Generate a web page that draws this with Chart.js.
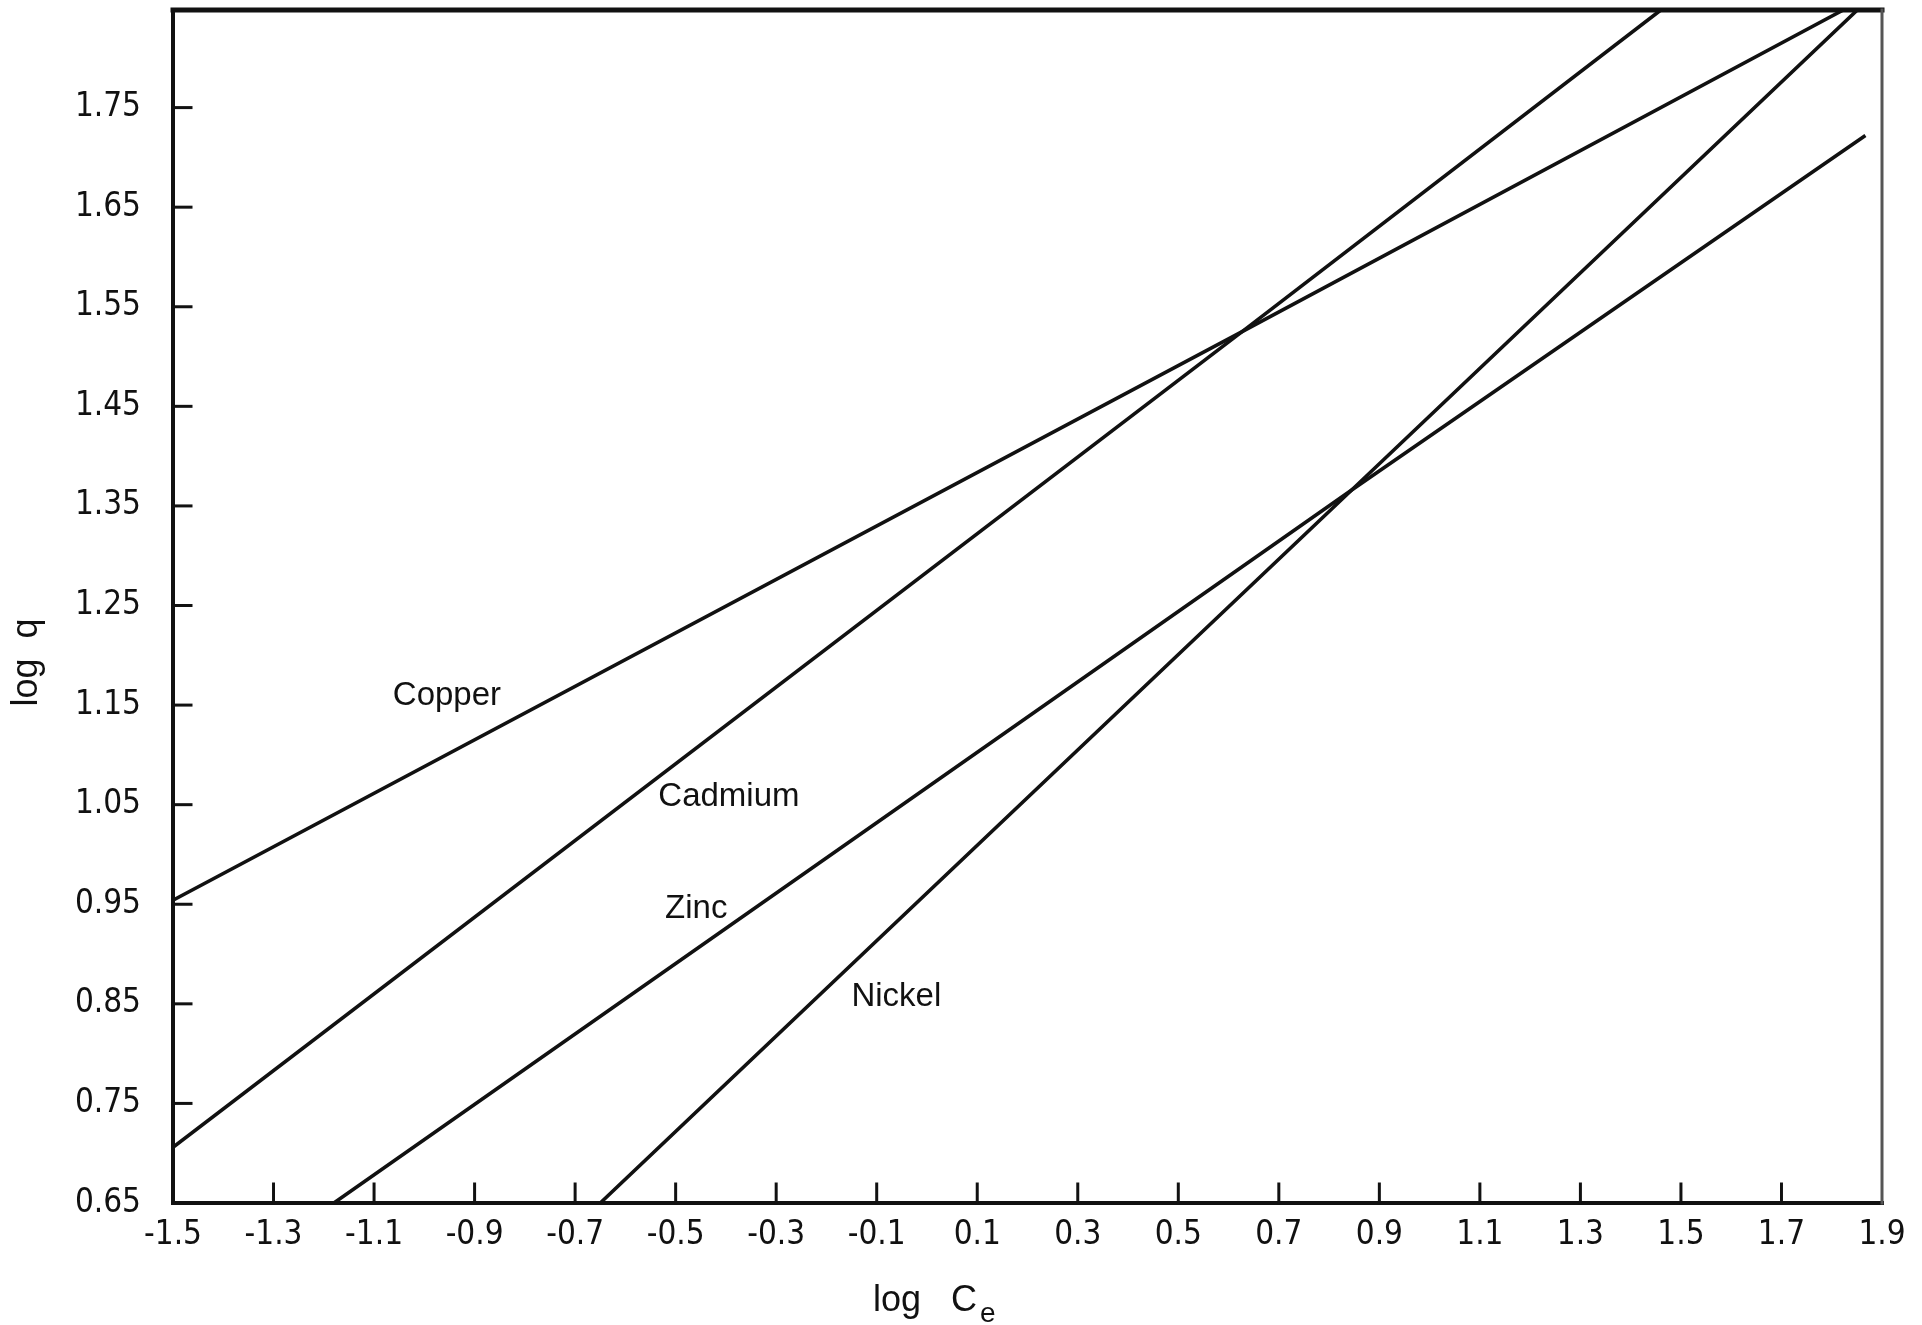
<!DOCTYPE html>
<html>
<head>
<meta charset="utf-8">
<script src="https://cdn.jsdelivr.net/npm/chart.js@4/dist/chart.umd.min.js"></script>
<style>
  html, body { margin: 0; padding: 0; background: #fff; }
  #wrap { width: 1922px; height: 1325px; position: relative; }
</style>
</head>
<body>
<div id="wrap"><canvas id="isoChart"></canvas></div>
<script>
// Freundlich isotherm lines, log q vs log Ce
const metals = ['Copper', 'Cadmium', 'Zinc', 'Nickel'];

const copperX = [-1.5, 0.627, 1.823];
const copperY = [0.954, 1.525, 1.848];
const cadmiumX = [-1.5, 0.627, 1.46];
const cadmiumY = [0.706, 1.525, 1.848];
const zincX = [-1.18, 0.845, 1.867];
const zincY = [0.65, 1.366, 1.722];
const nickelX = [-0.65, 0.845, 1.851];
const nickelY = [0.65, 1.366, 1.848];

// where the metal names sit, in data units
const nameX = [-0.955, -0.394, -0.459, -0.061];
const nameY = [1.159, 1.058, 0.945, 0.857];

const xTicks = [-1.5, -1.3, -1.1, -0.9, -0.7, -0.5, -0.3, -0.1, 0.1, 0.3, 0.5, 0.7, 0.9, 1.1, 1.3, 1.5, 1.7, 1.9];
const yTicks = [0.65, 0.75, 0.85, 0.95, 1.05, 1.15, 1.25, 1.35, 1.45, 1.55, 1.65, 1.75];

const toPoints = (xs, ys) => xs.map((x, i) => ({ x: x, y: ys[i] }));

const lineStyle = {
    borderColor: '#111',
    borderWidth: 3.6,
    pointRadius: 0,
    fill: false,
    tension: 0
};

const tickFont = { family: "'Liberation Sans Narrow', 'DejaVu Sans Condensed', sans-serif", size: 33 };

// frame, inward tick marks, axis titles and series names
const framePlugin = {
    id: 'frame',
    afterDatasetsDraw(chart) {
        const ctx = chart.ctx;
        const a = chart.chartArea;
        const xs = chart.scales.x, ys = chart.scales.y;
        ctx.save();
        ctx.strokeStyle = '#111';
        ctx.lineCap = 'square';

        // box
        ctx.lineWidth = 5;
        ctx.beginPath(); ctx.moveTo(a.left, a.top); ctx.lineTo(a.right, a.top); ctx.stroke();
        ctx.lineWidth = 4;
        ctx.beginPath(); ctx.moveTo(a.left, a.top); ctx.lineTo(a.left, a.bottom); ctx.lineTo(a.right, a.bottom); ctx.stroke();
        ctx.strokeStyle = '#555';
        ctx.lineWidth = 3;
        ctx.beginPath(); ctx.moveTo(a.right, a.top); ctx.lineTo(a.right, a.bottom); ctx.stroke();

        // tick marks point inwards
        ctx.strokeStyle = '#111';
        ctx.lineWidth = 3;
        xTicks.slice(1, -1).forEach(v => {
            const px = xs.getPixelForValue(v);
            ctx.beginPath(); ctx.moveTo(px, a.bottom); ctx.lineTo(px, a.bottom - 19); ctx.stroke();
        });
        yTicks.slice(1).forEach(v => {
            const py = ys.getPixelForValue(v);
            ctx.beginPath(); ctx.moveTo(a.left, py); ctx.lineTo(a.left + 18, py); ctx.stroke();
        });

        // metal names
        ctx.fillStyle = '#111';
        ctx.font = "33px 'Liberation Sans', Arial, sans-serif";
        ctx.textAlign = 'center';
        ctx.textBaseline = 'middle';
        metals.forEach((m, i) => {
            ctx.fillText(m, xs.getPixelForValue(nameX[i]), ys.getPixelForValue(nameY[i]));
        });

        // y title
        ctx.font = "36px 'Liberation Sans', Arial, sans-serif";
        ctx.save();
        ctx.translate(27, (a.top + a.bottom) / 2 + 56);
        ctx.rotate(-Math.PI / 2);
        ctx.fillText('log  q', 0, 0);
        ctx.restore();

        // x title with subscript
        const tx = a.left + 700, ty = a.bottom + 98;
        ctx.textAlign = 'left';
        ctx.fillText('log   C', tx, ty);
        const w = ctx.measureText('log   C').width;
        ctx.font = "28px 'Liberation Sans', Arial, sans-serif";
        ctx.fillText('e', tx + w + 3, ty + 13);
        ctx.restore();
    }
};

new Chart(document.getElementById('isoChart'), {
    type: 'line',
    data: {
        datasets: [
            Object.assign({ label: metals[0], data: toPoints(copperX, copperY) }, lineStyle),
            Object.assign({ label: metals[1], data: toPoints(cadmiumX, cadmiumY) }, lineStyle),
            Object.assign({ label: metals[2], data: toPoints(zincX, zincY) }, lineStyle),
            Object.assign({ label: metals[3], data: toPoints(nickelX, nickelY) }, lineStyle)
        ]
    },
    options: {
        responsive: true,
        maintainAspectRatio: false,
        animation: false,
        events: [],
        layout: { padding: { top: 10, right: 40, left: 0, bottom: 0 } },
        plugins: {
            legend: { display: false },
            tooltip: { enabled: false }
        },
        scales: {
            x: {
                type: 'linear',
                min: -1.5,
                max: 1.9,
                grid: { display: false, drawTicks: false },
                border: { display: false },
                afterBuildTicks: s => { s.ticks = xTicks.map(v => ({ value: v })); },
                afterFit: s => { s.height = 122; s.paddingLeft = 0; s.paddingRight = 0; },
                ticks: {
                    color: '#111',
                    font: tickFont,
                    padding: 13,
                    maxRotation: 0,
                    autoSkip: false,
                    callback: v => v.toFixed(1)
                }
            },
            y: {
                type: 'linear',
                min: 0.65,
                max: 1.848,
                grid: { display: false, drawTicks: false },
                border: { display: false },
                afterBuildTicks: s => { s.ticks = yTicks.map(v => ({ value: v })); },
                afterFit: s => { s.width = 173; s.paddingTop = 0; s.paddingBottom = 0; },
                ticks: {
                    color: '#111',
                    font: tickFont,
                    padding: 32,
                    autoSkip: false,
                    callback: v => v.toFixed(2)
                }
            }
        }
    },
    plugins: [framePlugin]
});
</script>
</body>
</html>
